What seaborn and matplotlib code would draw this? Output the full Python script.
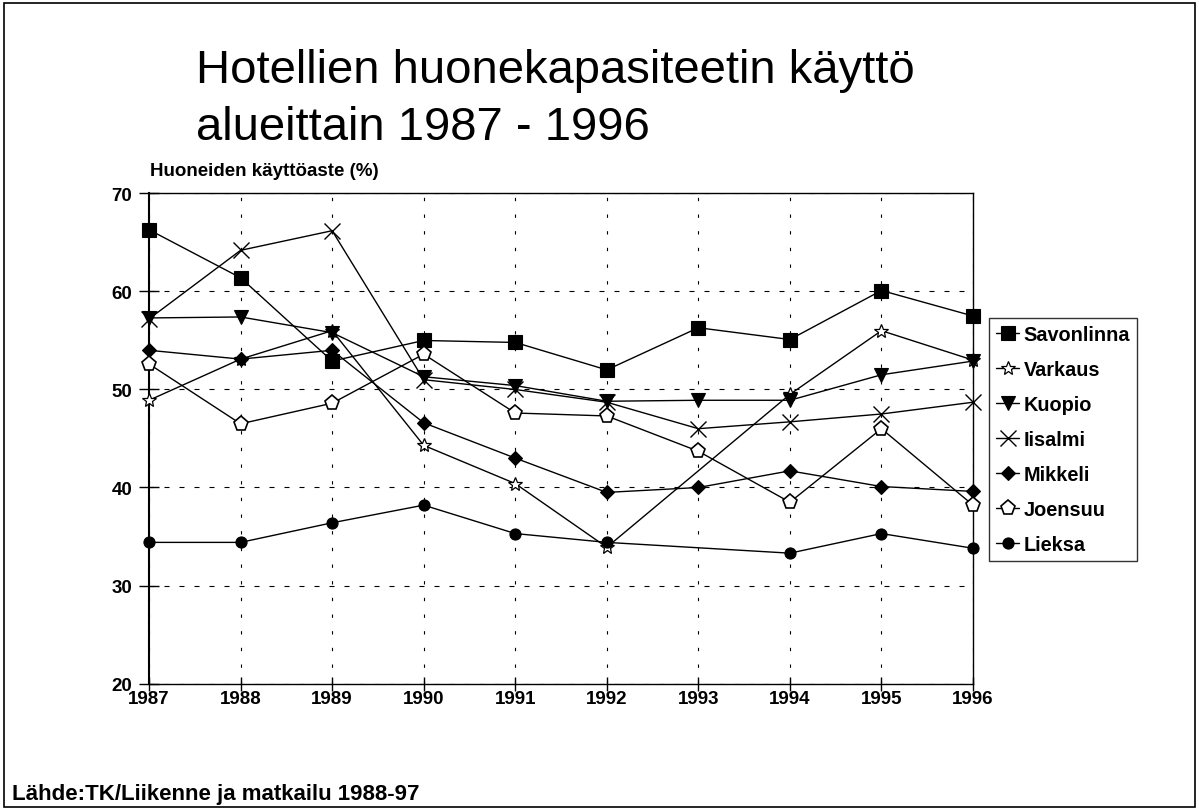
import numpy as np
import pandas as pd
import matplotlib
matplotlib.use("Agg")
import matplotlib.pyplot as plt
from matplotlib.patches import Rectangle
import seaborn as sns

# Hotel room occupancy (%) by region, 1987-1996
years = [1987, 1988, 1989, 1990, 1991, 1992, 1993, 1994, 1995, 1996]
savonlinna = [66.3, 61.4, 52.9, 55.0, 54.8, 52.0, 56.3, 55.1, 60.1, 57.5]
varkaus = [48.9, 53.1, 56.0, 44.3, 40.4, 33.9, np.nan, 49.5, 56.0, 53.0]
kuopio = [57.3, 57.4, 55.8, 51.3, 50.4, 48.8, 48.9, 48.9, 51.5, 52.9]
iisalmi = [57.2, 64.2, 66.2, 51.0, 50.0, 48.7, 46.0, 46.7, 47.5, 48.7]
mikkeli = [54.0, 53.1, 54.0, 46.6, 43.0, 39.5, 40.0, 41.7, 40.1, 39.6]
joensuu = [52.6, 46.5, 48.6, 53.6, 47.6, 47.3, 43.7, 38.5, 46.0, 38.2]
lieksa = [34.4, 34.4, 36.4, 38.2, 35.3, 34.4, np.nan, 33.3, 35.3, 33.8]

regions = ["Savonlinna", "Varkaus", "Kuopio", "Iisalmi", "Mikkeli", "Joensuu", "Lieksa"]
series = [savonlinna, varkaus, kuopio, iisalmi, mikkeli, joensuu, lieksa]
y_ticks = [20, 30, 40, 50, 60, 70]

# marker, size, face colour, edge width
styles = {
    "Savonlinna": ("s", 10, "black", 0.8),
    "Varkaus": ("*", 10, "white", 0.9),
    "Kuopio": ("v", 10, "black", 0.8),
    "Iisalmi": ("x", 12, "black", 1.0),
    "Mikkeli": ("D", 7.5, "black", 0.8),
    "Joensuu": ("p", 11, "white", 1.2),
    "Lieksa": ("o", 8, "black", 0.8),
}

sns.set_theme(style="white")
plt.rcParams["font.family"] = ["Liberation Sans", "DejaVu Sans"]
plt.rcParams["text.color"] = "black"
plt.rcParams["xtick.color"] = "black"
plt.rcParams["ytick.color"] = "black"

fig = plt.figure(figsize=(11.99, 8.12), dpi=100)
ax = fig.add_axes([0.1243, 0.157, 0.6872, 0.6035])

for name, vals in zip(regions, series):
    df = pd.DataFrame({"year": years, "value": vals}).dropna()
    m, ms, fc, mew = styles[name]
    sns.lineplot(data=df, x="year", y="value", ax=ax, color="black", lw=1.0,
                 marker=m, markersize=ms, markerfacecolor=fc,
                 markeredgecolor="black", markeredgewidth=mew, label=name,
                 zorder=3, clip_on=False)

ax.set_xlim(1987, 1996)
ax.set_ylim(20, 70)
ax.set_xticks(years)
ax.set_xticklabels([str(y) for y in years])
ax.set_yticks(y_ticks)
ax.set_xlabel("")
ax.set_ylabel("")

ax.xaxis.grid(True, color="black", lw=0.8, linestyle=(0, (3, 12)))
ax.yaxis.grid(True, color="black", lw=0.8, linestyle=(0, (4.5, 9)))
ax.set_axisbelow(True)

for side in ["top", "right", "bottom"]:
    ax.spines[side].set_color("black")
    ax.spines[side].set_linewidth(1.0)
ax.spines["left"].set_color("black")
ax.spines["left"].set_linewidth(1.5)

ax.tick_params(axis="x", direction="inout", length=10, width=1.0, color="black",
               labelsize=13.5, pad=0, bottom=True, labelcolor="black")
ax.tick_params(axis="y", direction="inout", length=14, width=1.0, color="black",
               labelsize=13.5, pad=5, left=True, labelcolor="black")
for lab in ax.get_xticklabels() + ax.get_yticklabels():
    lab.set_fontweight("bold")

leg = ax.legend(loc="upper left", bbox_to_anchor=(1.019, 0.745), frameon=True,
                fancybox=False, edgecolor="black",
                prop={"size": 14.3, "weight": "bold"},
                handlelength=1.2, handletextpad=0.2, labelspacing=0.8,
                borderpad=0.35, borderaxespad=0)
leg.get_frame().set_linewidth(1.0)
for t in leg.get_texts():
    t.set_color("black")

fig.text(196 / 1199, 1 - 83 / 812, "Hotellien huonekapasiteetin käyttö",
         fontsize=34, ha="left", va="baseline", color="black")
fig.text(196 / 1199, 1 - 140 / 812, "alueittain 1987 - 1996",
         fontsize=34, ha="left", va="baseline", color="black")
fig.text(150 / 1199, 1 - 172 / 812, "Huoneiden käyttöaste (%)",
         fontsize=13.5, fontweight="bold", ha="left", va="center", color="black")
fig.text(12 / 1199, 1 - 795 / 812, "Lähde:TK/Liikenne ja matkailu 1988-97",
         fontsize=16, fontweight="bold", ha="left", va="center", color="black")

fig.patches.append(Rectangle((4 / 1199, 4 / 812), 1191 / 1199, 804 / 812,
                             transform=fig.transFigure, fill=False,
                             edgecolor="black", lw=1.2))

fig.savefig("out.png", dpi=100)
